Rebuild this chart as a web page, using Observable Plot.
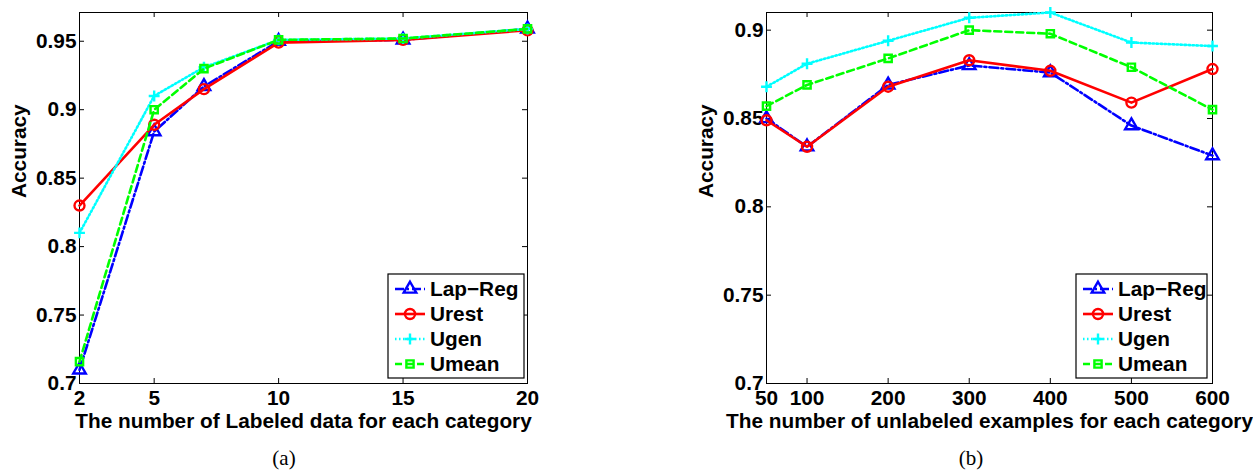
<!DOCTYPE html>
<html><head><meta charset="utf-8">
<script src="https://cdn.jsdelivr.net/npm/d3@7"></script>
<script src="https://cdn.jsdelivr.net/npm/@observablehq/plot@0.6"></script>
<style>
body{margin:0;background:#fff;}
#wrap{position:relative;width:1253px;height:470px;background:#fff;overflow:hidden;}
.panel{position:absolute;top:0;}
.cap{position:absolute;font-family:"Liberation Serif","DejaVu Serif",serif;font-size:21px;transform:translate(-50%,-50%);color:#000;white-space:nowrap;}
</style></head><body><div id="wrap"></div>
<script>
// ---------- data ----------
const seriesNames = ["Lap\u2212Reg", "Urest", "Ugen", "Umean"];

const labeledCounts = [2, 5, 7, 10, 15, 20];
const lapRegA = [0.710, 0.884, 0.917, 0.950, 0.951, 0.959];
const urestA  = [0.830, 0.889, 0.915, 0.949, 0.951, 0.958];
const ugenA   = [0.810, 0.910, 0.931, 0.951, 0.952, 0.959];
const umeanA  = [0.716, 0.900, 0.930, 0.951, 0.952, 0.959];

const unlabeledCounts = [50, 100, 200, 300, 400, 500, 600];
const lapRegB = [0.850, 0.834, 0.869, 0.880, 0.876, 0.846, 0.829];
const urestB  = [0.849, 0.834, 0.868, 0.883, 0.877, 0.859, 0.878];
const ugenB   = [0.868, 0.881, 0.894, 0.907, 0.910, 0.893, 0.891];
const umeanB  = [0.857, 0.869, 0.884, 0.900, 0.898, 0.879, 0.855];

const xTicksA = [2, 5, 10, 15, 20];
const yTicksA = [0.7, 0.75, 0.8, 0.85, 0.9, 0.95];
const xTicksB = [50, 100, 200, 300, 400, 500, 600];
const yTicksB = [0.7, 0.75, 0.8, 0.85, 0.9];

const xLabelA = "The number of Labeled data for each category";
const xLabelB = "The number of unlabeled examples for each category";
const yLabel = "Accuracy";
const captions = ["(a)", "(b)"];

// ---------- styles ----------
const styles = [
  {color: "#0000ff", dash: "9,3,2,3", symbol: "triangle2", r: 6},
  {color: "#ff0000", dash: null,      symbol: "circle",    r: 5},
  {color: "#00ffff", dash: "1.5,2.5", symbol: "plus",      r: 3.6},
  {color: "#00ff00", dash: "7,4",     symbol: "square2",   r: 4.6}
];
const FONT = "'Liberation Sans', Arial, Helvetica, sans-serif";
const FS = 20.8;

function rowsFor(xs, ys) { return xs.map((x, i) => ({x, y: ys[i]})); }

function panel(cfg) {
  const H = 440, mt = 12, mb = 57;
  const innerH = H - mt - mb;
  const innerW = cfg.width - cfg.ml - cfg.mr;
  const marks = [
    Plot.tickX(cfg.xTicks, {x: d => d, stroke: "black", insetTop: innerH - 5}),
    Plot.tickX(cfg.xTicks, {x: d => d, stroke: "black", insetBottom: innerH - 5}),
    Plot.tickY(cfg.yTicks, {y: d => d, stroke: "black", insetRight: innerW - 5}),
    Plot.tickY(cfg.yTicks, {y: d => d, stroke: "black", insetLeft: innerW - 5}),
    Plot.axisX({ticks: cfg.xTicks, tickSize: 0, tickPadding: 7, label: null,
      tickFormat: d => String(d), fontSize: FS, fontWeight: "bold"}),
    Plot.axisY({ticks: cfg.yTicks, tickSize: 0, tickPadding: 3, label: null,
      tickFormat: d => String(d), fontSize: FS, fontWeight: "bold"}),
    Plot.frame({stroke: "black"}),
    Plot.text([cfg.xLabel], {text: d => d, frameAnchor: "bottom", dy: 30, lineAnchor: "top",
      fontSize: FS, fontWeight: "bold", fill: "black"}),
    Plot.text([yLabel], {text: d => d, frameAnchor: "left", dx: -60, rotate: -90,
      fontSize: FS, fontWeight: "bold", fill: "black"})
  ];
  cfg.series.forEach((ys, i) => {
    const st = styles[i];
    const data = rowsFor(cfg.xs, ys);
    marks.push(Plot.line(data, {x: "x", y: "y", stroke: st.color, strokeWidth: 2.6,
      strokeDasharray: st.dash, strokeLinejoin: "round"}));
    marks.push(Plot.dot(data, {x: "x", y: "y", symbol: st.symbol, r: st.r, stroke: st.color,
      strokeWidth: 2.4, fill: "none"}));
  });
  const svg = Plot.plot({
    width: cfg.width, height: H,
    marginLeft: cfg.ml, marginRight: cfg.mr, marginTop: mt, marginBottom: mb,
    x: {domain: cfg.xDomain},
    y: {domain: cfg.yDomain},
    style: {fontFamily: FONT, fontSize: FS + "px", fontWeight: "bold", color: "black", background: "white", overflow: "visible"},
    marks
  });

  // legend (inside the frame, bottom-right)
  const g = d3.select(svg).append("g").attr("font-family", FONT).attr("font-size", FS)
    .attr("font-weight", "bold").attr("text-anchor", "start");
  const fr = cfg.width - cfg.mr, fb = H - mb;
  const bx0 = fr - cfg.legendW - cfg.legendGap, bx1 = fr - cfg.legendGap;
  g.append("rect").attr("x", bx0).attr("y", fb - 109).attr("width", bx1 - bx0).attr("height", 104)
    .attr("fill", "white").attr("stroke", "black").attr("stroke-width", 1.2);
  const rowY = [fb - 94, fb - 69, fb - 44, fb - 19];
  const symMap = {triangle2: d3.symbolTriangle2, circle: d3.symbolCircle, plus: d3.symbolPlus, square2: d3.symbolSquare2};
  seriesNames.forEach((name, i) => {
    const st = styles[i], y = rowY[i];
    const lx0 = bx0 + 7, lx1 = bx0 + 37, cx = (lx0 + lx1) / 2;
    g.append("line").attr("x1", lx0).attr("x2", lx1).attr("y1", y).attr("y2", y)
      .attr("stroke", st.color).attr("stroke-width", 2.6).attr("stroke-dasharray", st.dash);
    g.append("path").attr("d", d3.symbol(symMap[st.symbol], st.r * st.r * Math.PI)())
      .attr("transform", `translate(${cx},${y})`).attr("fill", "none")
      .attr("stroke", st.color).attr("stroke-width", 2.4);
    g.append("text").attr("x", bx0 + 42).attr("y", y).attr("dy", "0.36em").text(name);
  });
  return svg;
}

const wrap = document.getElementById("wrap");
const pA = panel({width: 560, ml: 79, mr: 33, xs: labeledCounts, series: [lapRegA, urestA, ugenA, umeanA],
  xDomain: [2, 20], yDomain: [0.7, 0.971], xTicks: xTicksA, yTicks: yTicksA, xLabel: xLabelA,
  legendW: 136, legendGap: 3});
const pB = panel({width: 573, ml: 86, mr: 41, xs: unlabeledCounts, series: [lapRegB, urestB, ugenB, umeanB],
  xDomain: [50, 600], yDomain: [0.7, 0.91], xTicks: xTicksB, yTicks: yTicksB, xLabel: xLabelB,
  legendW: 131, legendGap: 5});
const dA = document.createElement("div"); dA.className = "panel"; dA.style.left = "0px"; dA.appendChild(pA);
const dB = document.createElement("div"); dB.className = "panel"; dB.style.left = "680px"; dB.appendChild(pB);
wrap.appendChild(dA); wrap.appendChild(dB);
[[284, captions[0]], [971, captions[1]]].forEach(([x, t]) => {
  const c = document.createElement("div"); c.className = "cap";
  c.style.left = x + "px"; c.style.top = "458px"; c.textContent = t; wrap.appendChild(c);
});
</script></body></html>
